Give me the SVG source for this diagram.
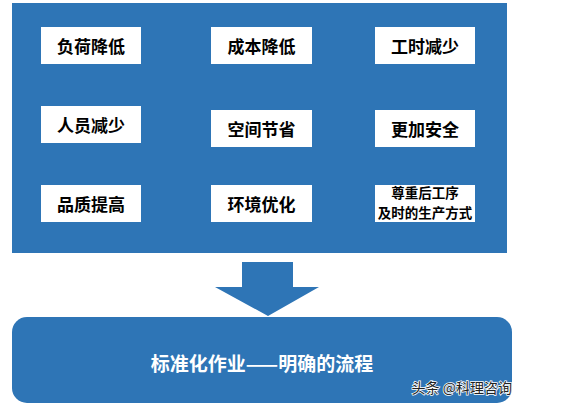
<svg xmlns="http://www.w3.org/2000/svg" width="573" height="409" viewBox="0 0 573 409">
<style>
.box{fill:#ffffff}
.t{font-family:"Noto Sans CJK SC","Liberation Sans",sans-serif;font-weight:bold;font-size:17px;fill:#000;text-anchor:middle;dominant-baseline:central}
.s{font-size:13.5px}
.blue{fill:#2E75B6}
</style>
<rect width="573" height="409" fill="#ffffff"/>
<rect id="panel" class="blue" x="12" y="3" width="495" height="250"/>
<g id="n1"><rect class="box" x="41" y="27" width="100" height="37"/><text class="t" x="91" y="45">负荷降低</text></g>
<g id="n2"><rect class="box" x="211" y="27" width="101" height="37"/><text class="t" x="261.5" y="45">成本降低</text></g>
<g id="n3"><rect class="box" x="375" y="27" width="100" height="37"/><text class="t" x="425" y="45">工时减少</text></g>
<g id="n4"><rect class="box" x="41" y="106" width="100" height="37"/><text class="t" x="91" y="124">人员减少</text></g>
<g id="n5"><rect class="box" x="211" y="110" width="101" height="37"/><text class="t" x="261.5" y="128">空间节省</text></g>
<g id="n6"><rect class="box" x="375" y="110" width="100" height="37"/><text class="t" x="425" y="128">更加安全</text></g>
<g id="n7"><rect class="box" x="41" y="185" width="100" height="37"/><text class="t" x="91" y="203">品质提高</text></g>
<g id="n8"><rect class="box" x="211" y="185" width="101" height="37"/><text class="t" x="261.5" y="203">环境优化</text></g>
<g id="n9"><rect class="box" x="375" y="185" width="100" height="37"/><text class="t s" x="425" y="192">尊重后工序</text><text class="t s" x="425" y="212">及时的生产方式</text></g>
<g id="connectors"><polygon class="blue" points="242,262 293,262 293,287 319,287 268,316 215,287 242,287"/></g>
<g id="result"><rect class="blue" x="12" y="317" width="500" height="86" rx="15"/><text class="t" x="262" y="362" style="fill:#fff;font-size:19px">标准化作业——明确的流程</text></g>
<text x="512" y="393" style="font-family:'Noto Sans CJK SC',sans-serif;font-size:14px;fill:#222;text-anchor:end;paint-order:stroke;stroke:#fff;stroke-width:1.5px">头条 @科理咨询</text>
</svg>
